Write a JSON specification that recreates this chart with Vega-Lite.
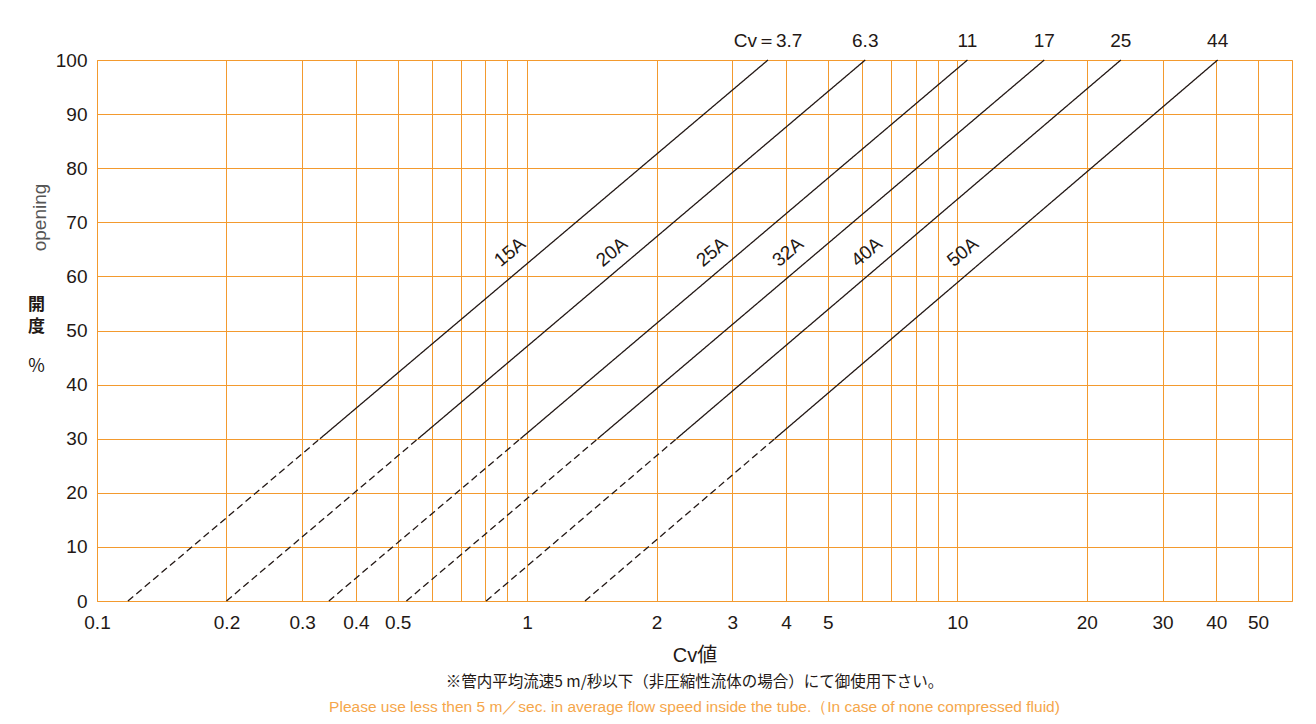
{
  "$schema": "https://vega.github.io/schema/vega-lite/v6.json",
  "width": 1195,
  "height": 541,
  "autosize": {"type": "none"},
  "padding": {"left": 97, "top": 60, "right": 24, "bottom": 123},
  "background": "white",
  "config": {
    "view": {"stroke": "#F39A2E", "strokeWidth": 1},
    "axis": {
      "domain": false,
      "ticks": false,
      "gridColor": "#F39A2E",
      "gridWidth": 1,
      "gridOpacity": 1,
      "labelFont": "Liberation Sans",
      "labelFontSize": 19,
      "labelColor": "#231815",
      "titleColor": "#231815"
    },
    "text": {"font": "Liberation Sans", "fontSize": 19, "color": "#231815"}
  },
  "title": {
    "text": "※管内平均流速5 m/秒以下（非圧縮性流体の場合）にて御使用下さい。",
    "subtitle": "Please use less then  5 m／sec. in average flow speed inside the tube.（In case of none compressed fluid)",
    "orient": "bottom",
    "anchor": "middle",
    "offset": 10,
    "font": "Noto Sans CJK JP",
    "fontSize": 15.5,
    "fontWeight": "normal",
    "color": "#231815",
    "subtitleFont": "Liberation Sans",
    "subtitleFontSize": 15.5,
    "subtitleColor": "#F5A64A",
    "subtitlePadding": 9
  },
  "resolve": {"axis": {"x": "independent", "y": "independent"}},
  "layer": [
    {
      "data": {"values": [
        {"s": "15A", "seg": "dashed", "cv": 0.118, "open": 0},
        {"s": "15A", "seg": "dashed", "cv": 0.33, "open": 30},
        {"s": "15A", "seg": "solid", "cv": 0.33, "open": 30},
        {"s": "15A", "seg": "solid", "cv": 3.63, "open": 100},
        {"s": "20A", "seg": "dashed", "cv": 0.2, "open": 0},
        {"s": "20A", "seg": "dashed", "cv": 0.558, "open": 30},
        {"s": "20A", "seg": "solid", "cv": 0.558, "open": 30},
        {"s": "20A", "seg": "solid", "cv": 6.11, "open": 100},
        {"s": "25A", "seg": "dashed", "cv": 0.346, "open": 0},
        {"s": "25A", "seg": "dashed", "cv": 0.965, "open": 30},
        {"s": "25A", "seg": "solid", "cv": 0.965, "open": 30},
        {"s": "25A", "seg": "solid", "cv": 10.56, "open": 100},
        {"s": "32A", "seg": "dashed", "cv": 0.524, "open": 0},
        {"s": "32A", "seg": "dashed", "cv": 1.459, "open": 30},
        {"s": "32A", "seg": "solid", "cv": 1.459, "open": 30},
        {"s": "32A", "seg": "solid", "cv": 15.93, "open": 100},
        {"s": "40A", "seg": "dashed", "cv": 0.803, "open": 0},
        {"s": "40A", "seg": "dashed", "cv": 2.225, "open": 30},
        {"s": "40A", "seg": "solid", "cv": 2.225, "open": 30},
        {"s": "40A", "seg": "solid", "cv": 24.0, "open": 100},
        {"s": "50A", "seg": "dashed", "cv": 1.363, "open": 0},
        {"s": "50A", "seg": "dashed", "cv": 3.765, "open": 30},
        {"s": "50A", "seg": "solid", "cv": 3.765, "open": 30},
        {"s": "50A", "seg": "solid", "cv": 40.3, "open": 100}
      ]},
      "mark": {"type": "line", "color": "#231815", "strokeWidth": 1.3},
      "encoding": {
        "x": {
          "field": "cv",
          "type": "quantitative",
          "scale": {"type": "log", "domain": [0.1, 60], "nice": false},
          "axis": {
            "orient": "bottom",
            "values": [0.1, 0.2, 0.3, 0.4, 0.5, 0.6, 0.7, 0.8, 0.9, 1, 2, 3, 4, 5, 6, 7, 8, 9, 10, 20, 30, 40, 50],
            "labelExpr": "indexof([0.6, 0.7, 0.8, 0.9, 6, 7, 8, 9], datum.value) >= 0 ? '' : format(datum.value, '~g')",
            "labelOverlap": false,
            "labelFlush": false,
            "labelPadding": 12,
            "grid": true,
            "title": "Cv値",
            "titleFont": "Liberation Sans, Noto Sans CJK JP",
            "titleFontSize": 20,
            "titleFontWeight": "normal",
            "titlePadding": 13
          }
        },
        "y": {
          "field": "open",
          "type": "quantitative",
          "scale": {"domain": [0, 100], "nice": false},
          "axis": {
            "orient": "left",
            "values": [0, 10, 20, 30, 40, 50, 60, 70, 80, 90, 100],
            "labelPadding": 10,
            "grid": true,
            "title": ["開", "度"],
            "titleAngle": 0,
            "titleFont": "Noto Sans CJK JP",
            "titleFontSize": 17,
            "titleFontWeight": "bold",
            "titleLineHeight": 22,
            "titleAlign": "center",
            "titleBaseline": "top",
            "titleX": -61,
            "titleY": 236
          }
        },
        "detail": {"field": "s"},
        "strokeDash": {
          "field": "seg",
          "type": "nominal",
          "scale": {"domain": ["dashed", "solid"], "range": [[7, 4], [1, 0]]},
          "legend": null
        }
      }
    },
    {
      "data": {"values": [
        {"t": "15A", "cv": 0.912, "open": 64.5},
        {"t": "20A", "cv": 1.574, "open": 64.5},
        {"t": "25A", "cv": 2.69, "open": 64.5},
        {"t": "32A", "cv": 4.04, "open": 64.5},
        {"t": "40A", "cv": 6.16, "open": 64.5},
        {"t": "50A", "cv": 10.3, "open": 64.5}
      ]},
      "mark": {"type": "text", "angle": -40, "align": "center", "baseline": "middle", "fontSize": 19},
      "encoding": {
        "x": {"field": "cv", "type": "quantitative", "axis": null},
        "y": {
          "field": "open",
          "type": "quantitative",
          "axis": {
            "orient": "right",
            "labels": false,
            "ticks": false,
            "domain": false,
            "grid": false,
            "title": "%",
            "titleAngle": 0,
            "titleX": -1256,
            "titleY": 306,
            "titleAlign": "center",
            "titleBaseline": "middle",
            "titleFont": "Noto Sans CJK JP",
            "titleFontSize": 18,
            "titleFontWeight": "normal",
            "titleColor": "#231815"
          }
        },
        "text": {"field": "t"}
      }
    },
    {
      "data": {"values": [
        {"t": "Cv＝3.7", "cv": 3.63},
        {"t": "6.3", "cv": 6.11},
        {"t": "11", "cv": 10.56},
        {"t": "17", "cv": 15.93},
        {"t": "25", "cv": 24.0},
        {"t": "44", "cv": 40.3}
      ]},
      "mark": {"type": "text", "align": "center", "baseline": "alphabetic", "dy": -13, "fontSize": 19},
      "encoding": {
        "x": {
          "field": "cv",
          "type": "quantitative",
          "axis": {
            "orient": "top",
            "labels": false,
            "ticks": false,
            "domain": false,
            "grid": false,
            "title": "opening",
            "titleAngle": -90,
            "titleX": -58,
            "titleY": 157,
            "titleAlign": "center",
            "titleBaseline": "middle",
            "titleFont": "Liberation Sans",
            "titleFontSize": 19,
            "titleFontWeight": "normal",
            "titleColor": "#555555"
          }
        },
        "y": {"datum": 100, "type": "quantitative", "axis": null},
        "text": {"field": "t"}
      }
    }
  ]
}
